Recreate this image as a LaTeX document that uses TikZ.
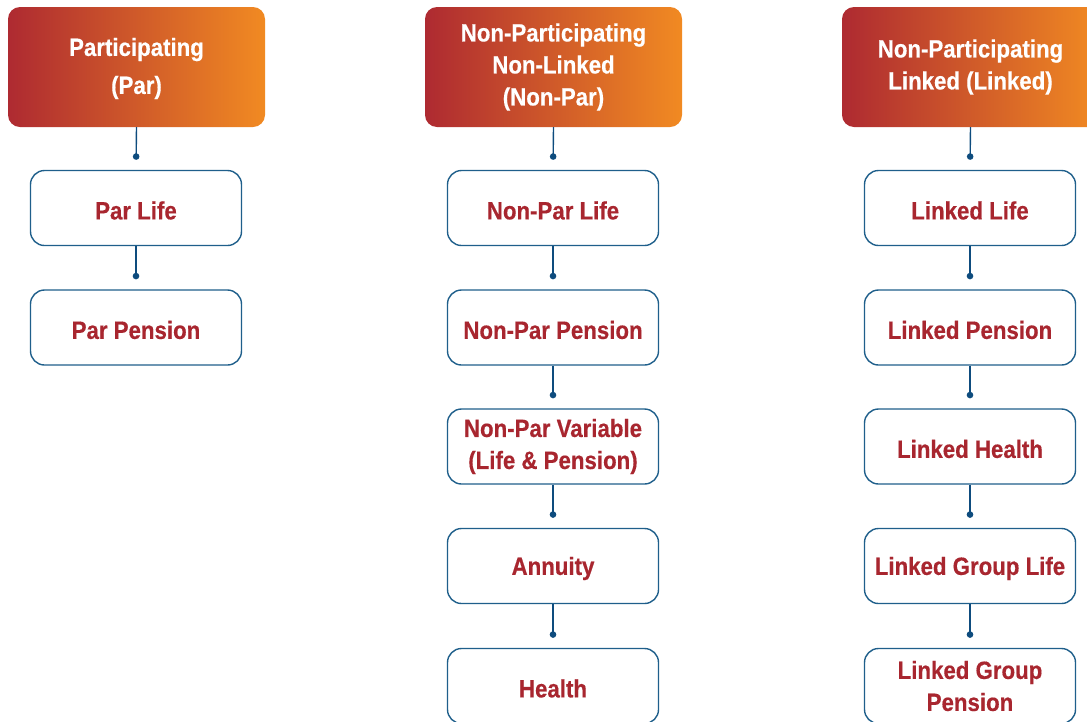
\documentclass[tikz,border=0pt]{standalone}
\usepackage{fontspec}
\setmainfont{Liberation Sans}[FakeStretch=0.89, BoldFeatures={FakeBold=0.4}]
\usetikzlibrary{arrows.meta}
\definecolor{txtred}{HTML}{A8262F}
\definecolor{bordblue}{HTML}{1F5F8B}
\definecolor{linkblue}{HTML}{0E4C7E}
\definecolor{gradL}{HTML}{AE2A31}
\definecolor{gradR}{HTML}{F18A22}
\tikzset{
  header/.style={rounded corners=12pt, left color=gradL, right color=gradR, draw=none,
    minimum width=257pt, minimum height=120pt, text=white, align=center,
    font=\fontsize{25}{32}\selectfont\bfseries, inner sep=0pt},
  item/.style={rounded corners=14pt, draw=bordblue, line width=1.4pt, fill=white,
    minimum width=211pt, minimum height=75pt, text=txtred, align=center,
    font=\fontsize{25}{32}\selectfont\bfseries, inner sep=0pt,
    execute at begin node={\rule{0pt}{23pt}}},
  link/.style={draw=linkblue, line width=1.4pt, -{Circle[length=6.5pt]}, shorten >=10pt}
}
\begin{document}
\begin{tikzpicture}[x=1pt,y=1pt]
\useasboundingbox (0,0) rectangle (1087,-721);
\clip (0,0) rectangle (1087,-721);
% column 1
\node[header] (h1) at (136.5,-67) {\rule{0pt}{21pt}Participating\\[6pt](Par)};
\node[item] (a1) at (136,-208) {Par Life};
\node[item] (a2) at (136,-327.5) {Par Pension};
% column 2
\node[header] (h2) at (553.5,-67) {Non-Participating\\Non-Linked\\(Non-Par)};
\node[item] (b1) at (553,-208) {Non-Par Life};
\node[item] (b2) at (553,-327.5) {Non-Par Pension};
\node[item] (b3) at (553,-446.5) {Non-Par Variable\\(Life \& Pension)};
\node[item] (b4) at (553,-566) {Annuity};
\node[item] (b5) at (553,-686) {Health};
% column 3
\node[header] (h3) at (970.5,-67) {Non-Participating\\Linked (Linked)};
\node[item] (c1) at (970,-208) {Linked Life};
\node[item] (c2) at (970,-327.5) {Linked Pension};
\node[item] (c3) at (970,-446.5) {Linked Health};
\node[item] (c4) at (970,-566) {Linked Group Life};
\node[item] (c5) at (970,-686) {Linked Group\\Pension};
% connectors
\draw[link] (h1.south) -- (a1.north);
\draw[link] (a1.south) -- (a2.north);
\draw[link] (h2.south) -- (b1.north);
\draw[link] (b1.south) -- (b2.north);
\draw[link] (b2.south) -- (b3.north);
\draw[link] (b3.south) -- (b4.north);
\draw[link] (b4.south) -- (b5.north);
\draw[link] (h3.south) -- (c1.north);
\draw[link] (c1.south) -- (c2.north);
\draw[link] (c2.south) -- (c3.north);
\draw[link] (c3.south) -- (c4.north);
\draw[link] (c4.south) -- (c5.north);
\end{tikzpicture}
\end{document}
